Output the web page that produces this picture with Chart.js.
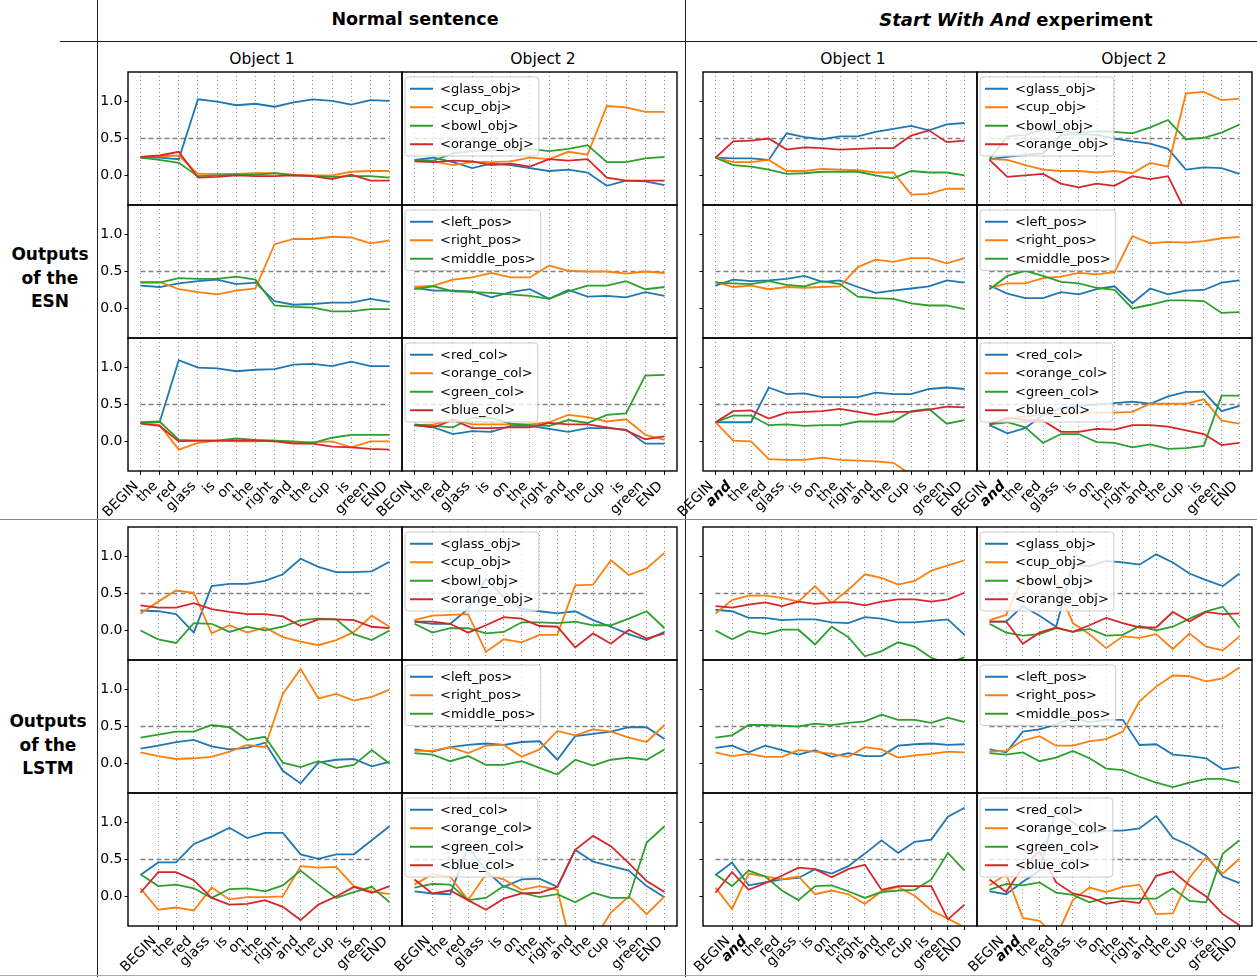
<!DOCTYPE html>
<html><head><meta charset="utf-8">
<script src="https://cdn.jsdelivr.net/npm/chart.js@4.4.0/dist/chart.umd.min.js"></script>
<style>
body{margin:0;background:#fff;width:1257px;height:977px;position:relative;overflow:hidden;font-family:'DejaVu Sans',sans-serif;}
canvas{position:absolute;}
.t{position:absolute;white-space:nowrap;color:#000;transform:translate(-50%,-50%);line-height:1;}
.ln{position:absolute;}
</style></head><body>
<div class="ln" style="left:97px;top:0;width:1px;height:977px;background:#222"></div>
<div class="ln" style="left:685px;top:0;width:1px;height:977px;background:#222"></div>
<div class="ln" style="left:60px;top:41px;width:1197px;height:1px;background:#222"></div>
<div class="ln" style="left:0;top:519px;width:1257px;height:1px;background:#888"></div>
<div class="ln" style="left:0;top:975px;width:1257px;height:1px;background:#aaa"></div>
<div class="t" style="left:415px;top:20px;font-size:17.5px;font-weight:bold">Normal sentence</div>
<div class="t" style="left:1016px;top:20px;font-size:18px;font-weight:bold"><i>Start With And</i> experiment</div>
<div class="t" style="left:50px;top:278px;font-size:17px;font-weight:bold;text-align:center;line-height:23.5px">Outputs<br>of the<br>ESN</div>
<div class="t" style="left:48px;top:745px;font-size:17px;font-weight:bold;text-align:center;line-height:23.5px">Outputs<br>of the<br>LSTM</div>
<div class="t" style="left:262px;top:60px;font-size:15.5px">Object 1</div>
<div class="t" style="left:543px;top:60px;font-size:15.5px">Object 2</div>
<div class="t" style="left:853px;top:60px;font-size:15.5px">Object 1</div>
<div class="t" style="left:1134px;top:60px;font-size:15.5px">Object 2</div>
<script>
// ---------------- tick labels / categories ----------------
const labelsNormal = ['BEGIN','the','red','glass','is','on','the','right','and','the','cup','is','green','END'];
const labelsSWA = ['BEGIN','and','the','red','glass','is','on','the','right','and','the','cup','is','green','END'];
const namesObj = ['<glass_obj>','<cup_obj>','<bowl_obj>','<orange_obj>'];
const namesPos = ['<left_pos>','<right_pos>','<middle_pos>'];
const namesCol = ['<red_col>','<orange_col>','<green_col>','<blue_col>'];

// ---------------- ESN, normal sentence, Object 1 ----------------
const E_N1_glass  = [0.24,0.24,0.22,1.03,1.00,0.95,0.97,0.93,0.99,1.03,1.01,0.96,1.02,1.01];
const E_N1_cup    = [0.25,0.26,0.27,0.02,0.02,0.02,0.03,0.03,0.01,0.00,0.00,0.05,0.06,0.06];
const E_N1_bowl   = [0.24,0.21,0.17,-0.01,0.00,0.01,0.01,0.03,0.00,-0.01,-0.02,-0.01,-0.01,-0.03];
const E_N1_orange = [0.25,0.27,0.32,-0.03,-0.02,0.00,-0.01,-0.01,0.00,-0.01,-0.05,0.01,-0.07,-0.07];
const E_N1_left   = [0.31,0.29,0.34,0.37,0.39,0.33,0.35,0.10,0.05,0.06,0.08,0.08,0.13,0.09];
const E_N1_right  = [0.36,0.36,0.26,0.22,0.19,0.24,0.27,0.87,0.94,0.94,0.97,0.96,0.88,0.92];
const E_N1_middle = [0.35,0.35,0.41,0.40,0.40,0.43,0.39,0.04,0.02,0.01,-0.04,-0.04,-0.01,-0.01];
const E_N1_redc   = [0.25,0.26,1.10,1.00,0.99,0.95,0.97,0.98,1.04,1.05,1.02,1.08,1.02,1.02];
const E_N1_orangec= [0.25,0.22,-0.11,-0.02,0.01,0.00,0.00,0.01,-0.02,-0.01,0.00,-0.08,0.00,0.00];
const E_N1_greenc = [0.26,0.27,0.02,0.01,0.01,0.04,0.02,0.01,0.00,-0.02,0.05,0.09,0.09,0.09];
const E_N1_bluec  = [0.24,0.21,0.00,0.01,0.01,0.01,0.01,0.00,-0.03,-0.03,-0.07,-0.08,-0.10,-0.11];
// ---------------- ESN, normal sentence, Object 2 ----------------
const E_N2_glass  = [0.21,0.24,0.18,0.10,0.16,0.14,0.10,0.06,0.08,0.04,-0.14,-0.07,-0.08,-0.13];
const E_N2_cup    = [0.20,0.19,0.14,0.18,0.18,0.19,0.24,0.22,0.32,0.28,0.94,0.92,0.86,0.86];
const E_N2_bowl   = [0.21,0.20,0.30,0.33,0.34,0.35,0.36,0.33,0.36,0.41,0.18,0.18,0.23,0.25];
const E_N2_orange = [0.19,0.18,0.20,0.19,0.14,0.16,0.12,0.22,0.20,0.22,-0.03,-0.07,-0.07,-0.07];
const E_N2_left   = [0.28,0.24,0.24,0.23,0.15,0.22,0.26,0.13,0.25,0.16,0.17,0.15,0.22,0.17];
const E_N2_right  = [0.29,0.31,0.39,0.42,0.48,0.42,0.42,0.58,0.51,0.50,0.50,0.47,0.50,0.48];
const E_N2_middle = [0.26,0.30,0.23,0.22,0.21,0.19,0.17,0.13,0.23,0.31,0.31,0.37,0.26,0.29];
const E_N2_redc   = [0.22,0.19,0.10,0.14,0.13,0.21,0.21,0.17,0.13,0.18,0.18,0.16,-0.03,-0.03];
const E_N2_orangec= [0.22,0.23,0.30,0.23,0.23,0.23,0.23,0.26,0.36,0.33,0.27,0.30,0.09,0.02];
const E_N2_greenc = [0.23,0.21,0.19,0.32,0.32,0.24,0.22,0.21,0.29,0.25,0.36,0.38,0.89,0.90];
const E_N2_bluec  = [0.22,0.19,0.29,0.18,0.18,0.19,0.19,0.25,0.23,0.23,0.19,0.15,0.03,0.07];
// ---------------- ESN, start with "and", Object 1 ----------------
const E_S1_glass  = [0.24,0.23,0.23,0.21,0.57,0.52,0.49,0.53,0.53,0.59,0.63,0.67,0.61,0.69,0.71];
const E_S1_cup    = [0.24,0.18,0.18,0.21,0.06,0.06,0.09,0.08,0.07,0.04,0.04,-0.26,-0.25,-0.18,-0.18];
const E_S1_bowl   = [0.24,0.14,0.12,0.08,0.02,0.03,0.05,0.05,0.05,0.00,-0.04,0.06,0.04,0.04,0.00];
const E_S1_orange = [0.24,0.46,0.47,0.50,0.35,0.38,0.37,0.35,0.36,0.37,0.37,0.54,0.61,0.45,0.47];
const E_S1_left   = [0.31,0.39,0.37,0.38,0.40,0.44,0.36,0.38,0.29,0.21,0.24,0.27,0.30,0.38,0.35];
const E_S1_right  = [0.36,0.29,0.31,0.26,0.29,0.28,0.29,0.30,0.56,0.66,0.63,0.68,0.68,0.61,0.68];
const E_S1_middle = [0.35,0.34,0.33,0.37,0.32,0.30,0.37,0.33,0.16,0.14,0.13,0.07,0.04,0.04,-0.01];
const E_S1_redc   = [0.26,0.26,0.26,0.73,0.64,0.65,0.60,0.60,0.60,0.66,0.64,0.64,0.71,0.73,0.71];
const E_S1_orangec= [0.26,0.01,0.00,-0.24,-0.25,-0.25,-0.22,-0.25,-0.26,-0.27,-0.29,-0.45,-0.60,-0.60,-0.60];
const E_S1_greenc = [0.26,0.35,0.35,0.22,0.23,0.21,0.22,0.22,0.27,0.27,0.27,0.41,0.44,0.24,0.29];
const E_S1_bluec  = [0.26,0.41,0.42,0.31,0.39,0.40,0.41,0.44,0.40,0.36,0.40,0.40,0.43,0.47,0.46];
// ---------------- ESN, start with "and", Object 2 ----------------
const E_S2_glass  = [0.22,0.25,0.28,0.30,0.55,0.56,0.55,0.50,0.46,0.43,0.36,0.08,0.11,0.10,0.02];
const E_S2_cup    = [0.22,0.21,0.14,0.08,0.06,0.06,0.04,0.06,0.03,0.17,0.12,1.11,1.13,1.02,1.04];
const E_S2_bowl   = [0.22,0.53,0.55,0.62,0.60,0.58,0.60,0.59,0.57,0.65,0.75,0.49,0.51,0.58,0.69];
const E_S2_orange = [0.21,-0.02,0.00,0.02,-0.11,-0.16,-0.11,-0.14,-0.01,-0.05,-0.01,-0.50,-0.70,-0.70,-0.70];
const E_S2_left   = [0.31,0.20,0.14,0.14,0.22,0.19,0.26,0.30,0.07,0.27,0.19,0.24,0.25,0.35,0.38];
const E_S2_right  = [0.28,0.34,0.34,0.41,0.43,0.48,0.46,0.49,0.98,0.88,0.90,0.89,0.91,0.95,0.97];
const E_S2_middle = [0.26,0.44,0.51,0.44,0.36,0.34,0.28,0.25,0.00,0.05,0.11,0.11,0.10,-0.06,-0.05];
const E_S2_redc   = [0.22,0.11,0.18,0.36,0.45,0.48,0.50,0.52,0.54,0.51,0.61,0.67,0.67,0.41,0.48];
const E_S2_orangec= [0.23,0.31,0.34,0.36,0.38,0.39,0.39,0.39,0.40,0.51,0.51,0.51,0.57,0.28,0.24];
const E_S2_greenc = [0.23,0.26,0.19,-0.02,0.10,0.10,-0.01,-0.02,-0.08,-0.04,-0.10,-0.09,-0.06,0.62,0.62];
const E_S2_bluec  = [0.23,0.32,0.29,0.28,0.13,0.13,0.17,0.16,0.22,0.22,0.20,0.15,0.10,-0.05,-0.02];
// ---------------- LSTM, normal sentence, Object 1 (first point precedes BEGIN) ----------------
const L_N1_glass  = [0.27,0.26,0.22,-0.03,0.60,0.63,0.63,0.67,0.76,0.97,0.86,0.79,0.79,0.80,0.93];
const L_N1_cup    = [0.23,0.39,0.54,0.51,-0.04,0.07,-0.03,0.04,-0.09,-0.15,-0.20,-0.13,-0.02,0.20,0.05];
const L_N1_bowl   = [0.00,-0.12,-0.17,0.10,0.09,-0.02,0.05,0.00,0.05,0.14,0.16,0.15,-0.05,-0.13,0.00];
const L_N1_orange = [0.34,0.31,0.31,0.37,0.29,0.25,0.22,0.22,0.19,0.06,0.15,0.15,0.14,0.05,0.03];
const L_N1_left   = [0.20,0.24,0.29,0.32,0.23,0.19,0.21,0.28,-0.10,-0.27,0.01,0.05,0.06,-0.04,0.02];
const L_N1_right  = [0.15,0.10,0.06,0.07,0.09,0.16,0.25,0.22,0.94,1.28,0.88,0.94,0.85,0.90,1.00];
const L_N1_middle = [0.35,0.39,0.43,0.43,0.52,0.49,0.32,0.36,0.01,-0.05,0.03,-0.06,-0.02,0.18,0.00];
const L_N1_redc   = [0.29,0.46,0.46,0.71,0.81,0.93,0.79,0.86,0.86,0.57,0.51,0.57,0.57,0.76,0.95];
const L_N1_orangec= [0.11,-0.18,-0.15,-0.19,0.12,-0.04,-0.01,-0.01,0.00,0.41,0.39,0.40,0.14,0.07,0.03];
const L_N1_greenc = [0.30,0.14,0.16,0.11,-0.02,0.10,0.11,0.07,0.15,0.35,0.16,-0.02,0.06,0.13,-0.08];
const L_N1_bluec  = [0.05,0.33,0.33,0.22,-0.02,-0.11,-0.10,-0.05,-0.14,-0.32,-0.11,0.00,0.13,0.05,0.14];
// ---------------- LSTM, normal sentence, Object 2 ----------------
const L_N2_glass  = [0.12,0.09,0.09,0.29,0.70,0.45,0.29,0.26,0.23,0.26,0.14,0.05,-0.05,-0.13,-0.02];
const L_N2_cup    = [0.14,0.20,0.21,0.22,-0.29,-0.12,-0.16,-0.06,-0.06,0.61,0.62,0.95,0.75,0.84,1.05];
const L_N2_bowl   = [0.09,-0.03,0.03,0.03,-0.04,-0.02,0.11,0.11,0.10,0.12,0.07,0.07,0.16,0.26,0.03];
const L_N2_orange = [0.12,0.12,0.09,-0.03,0.07,0.18,0.16,0.06,0.05,-0.23,-0.04,-0.18,0.01,-0.11,-0.04];
const L_N2_left   = [0.19,0.16,0.22,0.25,0.27,0.25,0.29,0.30,0.05,0.37,0.40,0.43,0.49,0.49,0.33];
const L_N2_right  = [0.17,0.17,0.22,0.14,0.24,0.25,0.09,0.19,0.44,0.38,0.46,0.43,0.35,0.29,0.52];
const L_N2_middle = [0.14,0.12,0.03,0.10,-0.02,-0.02,0.03,-0.06,-0.15,0.05,-0.03,0.05,0.08,0.05,0.19];
const L_N2_redc   = [0.07,0.04,0.03,0.67,0.35,0.13,0.23,0.24,0.13,0.63,0.47,0.41,0.35,0.14,-0.01];
const L_N2_orangec= [0.16,0.30,0.27,-0.05,0.30,0.23,0.09,0.14,0.09,-0.90,-0.60,-0.22,0.00,-0.24,0.00];
const L_N2_greenc = [0.12,0.17,0.16,-0.05,-0.02,0.14,0.05,-0.01,0.03,-0.08,0.05,-0.02,-0.02,0.73,0.95];
const L_N2_bluec  = [0.23,0.04,0.08,-0.05,-0.18,-0.03,0.04,0.05,0.13,0.63,0.82,0.68,0.45,0.21,0.06];
// ---------------- LSTM, start with "and", Object 1 ----------------
const L_S1_glass  = [0.28,0.26,0.17,0.17,0.14,0.15,0.15,0.11,0.10,0.18,0.16,0.11,0.11,0.13,0.15,-0.06];
const L_S1_cup    = [0.23,0.41,0.47,0.47,0.44,0.39,0.60,0.37,0.55,0.76,0.71,0.62,0.67,0.81,0.88,0.95];
const L_S1_bowl   = [0.00,-0.12,-0.01,-0.05,0.01,0.01,-0.19,0.05,-0.09,-0.35,-0.28,-0.16,-0.22,-0.37,-0.45,-0.36];
const L_S1_orange = [0.33,0.31,0.35,0.38,0.33,0.39,0.36,0.38,0.38,0.34,0.39,0.42,0.42,0.39,0.42,0.51];
const L_S1_left   = [0.21,0.24,0.15,0.24,0.18,0.12,0.18,0.09,0.14,0.10,0.10,0.24,0.26,0.27,0.25,0.26];
const L_S1_right  = [0.15,0.10,0.13,0.09,0.09,0.18,0.16,0.13,0.09,0.22,0.19,0.08,0.11,0.13,0.16,0.15];
const L_S1_middle = [0.35,0.38,0.52,0.52,0.51,0.50,0.54,0.52,0.55,0.57,0.66,0.59,0.59,0.55,0.62,0.56];
const L_S1_redc   = [0.29,0.46,0.15,0.19,0.23,0.25,0.37,0.31,0.41,0.58,0.76,0.59,0.74,0.77,1.08,1.20];
const L_S1_orangec= [0.12,-0.17,0.31,0.27,0.23,0.27,0.03,0.08,0.03,-0.10,0.07,0.13,0.01,-0.19,-0.30,-0.42];
const L_S1_greenc = [0.30,0.14,0.35,0.27,0.08,-0.05,0.14,0.15,0.07,-0.02,0.06,0.08,0.09,0.23,0.59,0.35];
const L_S1_bluec  = [0.05,0.33,0.09,0.18,0.28,0.39,0.37,0.26,0.37,0.43,0.09,0.14,0.14,0.14,-0.31,-0.11];
// ---------------- LSTM, start with "and", Object 2 ----------------
const L_S2_glass  = [0.12,0.12,0.33,0.20,0.05,0.90,0.87,0.94,0.92,0.89,1.03,0.92,0.77,0.68,0.60,0.77];
const L_S2_cup    = [0.14,0.21,0.71,0.67,0.64,0.10,-0.05,-0.24,-0.08,-0.10,-0.05,-0.25,-0.04,-0.22,-0.27,-0.08];
const L_S2_bowl   = [0.09,-0.03,-0.07,-0.05,0.03,-0.02,0.02,-0.07,-0.06,0.06,0.00,0.05,0.16,0.26,0.32,0.04];
const L_S2_orange = [0.12,0.12,-0.18,-0.03,0.04,-0.02,0.07,0.17,0.10,0.04,0.04,0.25,0.12,0.25,0.22,0.23];
const L_S2_left   = [0.19,0.15,0.43,0.46,0.53,0.62,0.56,0.59,0.59,0.25,0.26,0.12,0.10,0.07,-0.08,-0.05];
const L_S2_right  = [0.16,0.17,0.31,0.37,0.24,0.24,0.30,0.33,0.43,0.84,1.04,1.19,1.18,1.11,1.15,1.30];
const L_S2_middle = [0.14,0.12,0.15,0.03,0.08,0.17,0.07,-0.07,-0.09,-0.18,-0.26,-0.32,-0.26,-0.21,-0.21,-0.26];
const L_S2_redc   = [0.07,0.03,0.20,0.35,1.17,1.00,0.86,0.89,0.89,0.92,1.09,0.79,0.69,0.55,0.27,0.18];
const L_S2_orangec= [0.15,0.30,-0.29,-0.33,-0.55,-0.05,0.12,0.06,0.13,0.16,-0.24,-0.23,0.25,0.53,0.31,0.51];
const L_S2_greenc = [0.09,0.17,0.15,0.19,0.05,0.02,-0.08,-0.02,-0.03,-0.03,-0.03,0.11,-0.06,-0.08,0.58,0.76];
const L_S2_bluec  = [0.23,0.06,0.40,0.61,0.19,0.04,-0.01,-0.10,-0.06,-0.09,0.28,0.34,0.15,0.00,-0.24,-0.39];

const yTicks = [0, 0.5, 1.0];
const threshold = 0.5;

// ---------------- drawing ----------------
const FONT = "'DejaVu Sans', sans-serif";
const COLORS = ['#1f77b4','#ff7f0e','#2ca02c','#d62728'];

function drawLegend(ctx, ca, names) {
  ctx.save();
  ctx.font = '13px ' + FONT;
  const rowH = 18.5, pad = 2.5;
  const x0 = ca.left + 3, y0 = ca.top + 5;
  const tw = Math.max(...names.map(n => ctx.measureText(n).width));
  const w = 35 + tw + 5, h = names.length * rowH + 2 * pad;
  ctx.beginPath();
  if (ctx.roundRect) ctx.roundRect(x0, y0, w, h, 3); else ctx.rect(x0, y0, w, h);
  ctx.fillStyle = 'rgba(255,255,255,0.8)';
  ctx.fill();
  ctx.strokeStyle = '#cccccc'; ctx.lineWidth = 1; ctx.stroke();
  names.forEach((nm, i) => {
    const cy = y0 + pad + rowH * (i + 0.5);
    ctx.beginPath(); ctx.moveTo(x0 + 5, cy); ctx.lineTo(x0 + 28, cy);
    ctx.strokeStyle = COLORS[i]; ctx.lineWidth = 2; ctx.stroke();
    ctx.fillStyle = '#000'; ctx.textBaseline = 'middle'; ctx.textAlign = 'left';
    ctx.fillText(nm, x0 + 35, cy + 0.5);
  });
  ctx.restore();
}

const deco = {
  id: 'deco',
  afterDatasetsDraw(chart, args, opts) {
    if (opts.names) drawLegend(chart.ctx, chart.chartArea, opts.names);
  },
  afterDraw(chart) {
    const ca = chart.chartArea, ctx = chart.ctx;
    ctx.save(); ctx.strokeStyle = '#000'; ctx.lineWidth = 1.4;
    ctx.strokeRect(ca.left, ca.top, ca.right - ca.left, ca.bottom - ca.top);
    ctx.restore();
  }
};

function panel(cfg) {
  const L = 45, R = 4, T = 3, B = cfg.bottom ? 75 : 3;
  const c = document.createElement('canvas');
  const W = cfg.w + L + R, H = cfg.h + T + B;
  c.width = W; c.height = H;
  c.style.left = (cfg.x - L) + 'px'; c.style.top = (cfg.y - T) + 'px';
  c.style.width = W + 'px'; c.style.height = H + 'px';
  document.body.appendChild(c);
  const n = cfg.series[0].length, m = 0.05 * (n - 1), off = cfg.offset, labels = cfg.labels;
  const datasets = cfg.series.map((s, i) => ({
    data: s.map((v, k) => ({x: k, y: v})), borderColor: COLORS[i], borderWidth: 1.8,
    pointRadius: 0, tension: 0, fill: false, clip: 0, order: -i
  }));
  datasets.push({data: [{x: 0, y: threshold}, {x: labels.length - 1, y: threshold}],
    borderColor: '#808080', borderWidth: 1.3, borderDash: [5, 3], pointRadius: 0, clip: 0, order: 5});
  const zero = s => { s.paddingLeft = 0; s.paddingRight = 0; s.paddingTop = 0; s.paddingBottom = 0; };
  new Chart(c, {
    type: 'line',
    data: {datasets},
    plugins: [deco],
    options: {
      responsive: false, animation: false, devicePixelRatio: 1, events: [],
      layout: {padding: {top: T, right: R, left: 0, bottom: 0}},
      plugins: {legend: {display: false}, tooltip: {enabled: false}, deco: {names: cfg.names}},
      scales: {
        x: {
          type: 'linear', min: -m, max: n - 1 + m, bounds: 'data',
          afterBuildTicks: s => { s.ticks = labels.map((_, k) => ({value: k + off})); },
          afterFit: s => { s.height = B; zero(s); },
          ticks: {
            display: !!cfg.bottom, autoSkip: false, minRotation: 45, maxRotation: 45, padding: 3, color: '#000',
            labelOffset: -4,
            callback: v => labels[Math.round(v) - off],
            font: ctx => (cfg.swa && ctx.index === 1) ? {family: FONT, size: 14, weight: 'bold', style: 'italic'} : {family: FONT, size: 14}
          },
          grid: {display: true, drawOnChartArea: true, drawTicks: !!cfg.bottom, tickLength: 4,
                 color: 'rgba(0,0,0,0.45)', lineWidth: 1, tickColor: '#000', tickWidth: 1},
          border: {display: false, dash: [1, 3]}
        },
        y: {
          type: 'linear', min: -0.4, max: 1.4, bounds: 'data',
          afterBuildTicks: s => { s.ticks = yTicks.map(v => ({value: v})); },
          afterFit: s => { s.width = L; zero(s); },
          ticks: {display: !!cfg.ylabels, callback: v => v.toFixed(1), font: {family: FONT, size: 14}, color: '#000', padding: 2},
          grid: {display: !!cfg.yticks, drawOnChartArea: false, drawTicks: true, tickLength: 3.5, tickColor: '#000', tickWidth: 1},
          border: {display: false}
        }
      }
    }
  });
}

const esnRows = [72, 205, 338], lstmRows = [527, 660, 793], H = 133;
const cols = {n1: [128, 274], n2: [402, 275], s1: [703, 274], s2: [977, 275]};
const groups = [
  {rows: esnRows, off: 0, panels: {
    n1: [[E_N1_glass, E_N1_cup, E_N1_bowl, E_N1_orange], [E_N1_left, E_N1_right, E_N1_middle], [E_N1_redc, E_N1_orangec, E_N1_greenc, E_N1_bluec]],
    n2: [[E_N2_glass, E_N2_cup, E_N2_bowl, E_N2_orange], [E_N2_left, E_N2_right, E_N2_middle], [E_N2_redc, E_N2_orangec, E_N2_greenc, E_N2_bluec]],
    s1: [[E_S1_glass, E_S1_cup, E_S1_bowl, E_S1_orange], [E_S1_left, E_S1_right, E_S1_middle], [E_S1_redc, E_S1_orangec, E_S1_greenc, E_S1_bluec]],
    s2: [[E_S2_glass, E_S2_cup, E_S2_bowl, E_S2_orange], [E_S2_left, E_S2_right, E_S2_middle], [E_S2_redc, E_S2_orangec, E_S2_greenc, E_S2_bluec]]}},
  {rows: lstmRows, off: 1, panels: {
    n1: [[L_N1_glass, L_N1_cup, L_N1_bowl, L_N1_orange], [L_N1_left, L_N1_right, L_N1_middle], [L_N1_redc, L_N1_orangec, L_N1_greenc, L_N1_bluec]],
    n2: [[L_N2_glass, L_N2_cup, L_N2_bowl, L_N2_orange], [L_N2_left, L_N2_right, L_N2_middle], [L_N2_redc, L_N2_orangec, L_N2_greenc, L_N2_bluec]],
    s1: [[L_S1_glass, L_S1_cup, L_S1_bowl, L_S1_orange], [L_S1_left, L_S1_right, L_S1_middle], [L_S1_redc, L_S1_orangec, L_S1_greenc, L_S1_bluec]],
    s2: [[L_S2_glass, L_S2_cup, L_S2_bowl, L_S2_orange], [L_S2_left, L_S2_right, L_S2_middle], [L_S2_redc, L_S2_orangec, L_S2_greenc, L_S2_bluec]]}}
];
const rowNames = [namesObj, namesPos, namesCol];
groups.forEach(g => {
  Object.keys(g.panels).forEach(key => {
    g.panels[key].forEach((series, r) => {
      panel({
        x: cols[key][0], w: cols[key][1], y: g.rows[r], h: H,
        series, labels: key[0] === 's' ? labelsSWA : labelsNormal, swa: key[0] === 's',
        offset: g.off, bottom: r === 2,
        ylabels: key === 'n1', yticks: key === 'n1' || key === 's1',
        names: key.endsWith('2') ? rowNames[r] : null
      });
    });
  });
});
</script>
</body></html>
